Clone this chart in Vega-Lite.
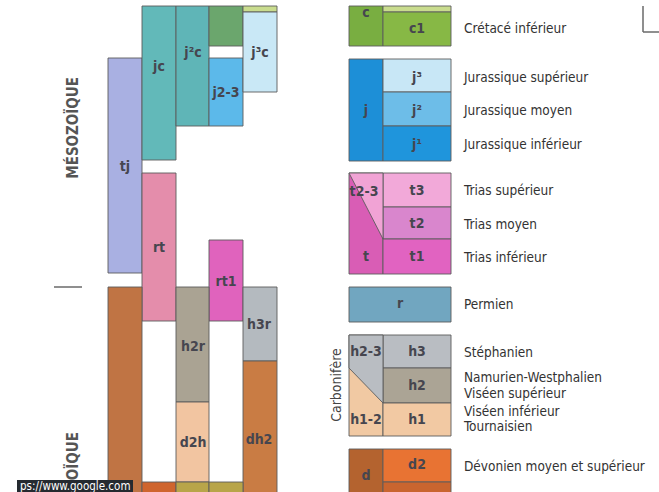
{
  "$schema": "https://vega.github.io/schema/vega-lite/v6.json",
  "width": 659,
  "height": 492,
  "autosize": "none",
  "padding": 0,
  "background": "white",
  "config": {"view": {"stroke": null}},
  "datasets": {
    "units": [
      {"unit": "tj", "x0": 108, "x1": 142, "top": 58, "bottom": 273},
      {"unit": "jc", "x0": 142, "x1": 176, "top": 6, "bottom": 160},
      {"unit": "j2c", "x0": 176, "x1": 209, "top": 6, "bottom": 126},
      {"unit": "cg", "x0": 209, "x1": 243, "top": 6, "bottom": 46},
      {"unit": "j2-3", "x0": 209, "x1": 243, "top": 58, "bottom": 126},
      {"unit": "c2", "x0": 243, "x1": 277, "top": 6, "bottom": 12},
      {"unit": "j3c", "x0": 243, "x1": 277, "top": 12, "bottom": 92},
      {"unit": "rt", "x0": 142, "x1": 176, "top": 173, "bottom": 321},
      {"unit": "rt1", "x0": 209, "x1": 243, "top": 240, "bottom": 321},
      {"unit": "dh", "x0": 108, "x1": 142, "top": 287, "bottom": 510},
      {"unit": "h2r", "x0": 176, "x1": 209, "top": 287, "bottom": 402},
      {"unit": "d2h", "x0": 176, "x1": 209, "top": 402, "bottom": 482},
      {"unit": "h3r", "x0": 243, "x1": 277, "top": 287, "bottom": 361},
      {"unit": "dh2", "x0": 243, "x1": 277, "top": 361, "bottom": 510},
      {"unit": "d2b", "x0": 142, "x1": 176, "top": 482, "bottom": 510},
      {"unit": "ol", "x0": 176, "x1": 209, "top": 482, "bottom": 510},
      {"unit": "ol", "x0": 209, "x1": 243, "top": 482, "bottom": 510},
      {"unit": "c", "x0": 349, "x1": 383, "top": 6, "bottom": 46},
      {"unit": "c2", "x0": 383, "x1": 451, "top": 6, "bottom": 12},
      {"unit": "c1", "x0": 383, "x1": 451, "top": 12, "bottom": 46},
      {"unit": "j", "x0": 349, "x1": 383, "top": 59, "bottom": 161},
      {"unit": "j3", "x0": 383, "x1": 451, "top": 59, "bottom": 92},
      {"unit": "j2", "x0": 383, "x1": 451, "top": 92, "bottom": 126},
      {"unit": "j1", "x0": 383, "x1": 451, "top": 126, "bottom": 161},
      {"unit": "t", "x0": 349, "x1": 383, "top": 173, "bottom": 274},
      {"unit": "t3", "x0": 383, "x1": 451, "top": 173, "bottom": 207},
      {"unit": "t2", "x0": 383, "x1": 451, "top": 207, "bottom": 239},
      {"unit": "t1", "x0": 383, "x1": 451, "top": 239, "bottom": 274},
      {"unit": "r", "x0": 349, "x1": 451, "top": 287, "bottom": 322},
      {"unit": "h1-2", "x0": 349, "x1": 383, "top": 335, "bottom": 436},
      {"unit": "h3", "x0": 383, "x1": 451, "top": 335, "bottom": 368},
      {"unit": "h2", "x0": 383, "x1": 451, "top": 368, "bottom": 403},
      {"unit": "h1", "x0": 383, "x1": 451, "top": 403, "bottom": 436},
      {"unit": "d", "x0": 349, "x1": 383, "top": 449, "bottom": 510},
      {"unit": "d2", "x0": 383, "x1": 451, "top": 449, "bottom": 482},
      {"unit": "d1", "x0": 383, "x1": 451, "top": 482, "bottom": 510}
    ],
    "wedges": [
      {"unit": "t2-3", "x": 349, "top": 173, "bottom": 173},
      {"unit": "t2-3", "x": 383, "top": 173, "bottom": 239},
      {"unit": "h2-3", "x": 349, "top": 335, "bottom": 368},
      {"unit": "h2-3", "x": 383, "top": 335, "bottom": 403}
    ],
    "codes": [
      {"label": "jc", "x": 159, "y": 67},
      {"label": "j²c", "x": 193, "y": 53},
      {"label": "j2-3", "x": 226, "y": 93},
      {"label": "j³c", "x": 260, "y": 53},
      {"label": "tj", "x": 125, "y": 167},
      {"label": "rt", "x": 159, "y": 248},
      {"label": "rt1", "x": 226, "y": 282},
      {"label": "h3r", "x": 259, "y": 325},
      {"label": "h2r", "x": 193, "y": 347},
      {"label": "d2h", "x": 193, "y": 443},
      {"label": "dh2", "x": 259, "y": 440},
      {"label": "c", "x": 366, "y": 13},
      {"label": "c1", "x": 417, "y": 29},
      {"label": "j", "x": 366, "y": 111},
      {"label": "j³", "x": 417, "y": 78},
      {"label": "j²", "x": 417, "y": 111},
      {"label": "j¹", "x": 417, "y": 145},
      {"label": "t2-3", "x": 364, "y": 192},
      {"label": "t", "x": 366, "y": 257},
      {"label": "t3", "x": 417, "y": 191},
      {"label": "t2", "x": 417, "y": 224},
      {"label": "t1", "x": 417, "y": 257},
      {"label": "r", "x": 400, "y": 304},
      {"label": "h2-3", "x": 366, "y": 352},
      {"label": "h3", "x": 417, "y": 352},
      {"label": "h2", "x": 417, "y": 386},
      {"label": "h1", "x": 417, "y": 420},
      {"label": "h1-2", "x": 366, "y": 420},
      {"label": "d", "x": 366, "y": 476},
      {"label": "d2", "x": 417, "y": 465}
    ],
    "names": [
      {"label": "Crétacé inférieur", "x": 464, "y": 29},
      {"label": "Jurassique supérieur", "x": 464, "y": 78},
      {"label": "Jurassique moyen", "x": 464, "y": 111},
      {"label": "Jurassique inférieur", "x": 464, "y": 145},
      {"label": "Trias supérieur", "x": 464, "y": 191},
      {"label": "Trias moyen", "x": 464, "y": 225},
      {"label": "Trias inférieur", "x": 464, "y": 258},
      {"label": "Permien", "x": 464, "y": 305},
      {"label": "Stéphanien", "x": 464, "y": 353},
      {"label": "Namurien-Westphalien", "x": 464, "y": 378},
      {"label": "Viséen supérieur", "x": 464, "y": 394},
      {"label": "Viséen inférieur", "x": 464, "y": 412},
      {"label": "Tournaisien", "x": 464, "y": 427},
      {"label": "Dévonien moyen et supérieur", "x": 464, "y": 467}
    ],
    "eras": [
      {"label": "MÉSOZOÏQUE", "x": 73, "y": 77},
      {"label": "PALÉOZOÏQUE", "x": 73, "y": 432}
    ],
    "lines": [
      {"x": 54, "x2": 82, "y": 287, "y2": 287},
      {"x": 643, "x2": 643, "y": 6, "y2": 32},
      {"x": 643, "x2": 660, "y": 32, "y2": 32}
    ],
    "overlay": [
      {"x0": 17, "x1": 133, "top": 480, "bottom": 495, "label": "ps://www.google.com", "tx": 20, "ty": 487}
    ]
  },
  "layer": [
    {
      "data": {"name": "units"},
      "mark": {"type": "rect", "stroke": "#5c5c5c", "strokeWidth": 0.9},
      "encoding": {
        "x": {"field": "x0", "type": "quantitative", "scale": {"domain": [0, 659], "nice": false, "zero": false}, "axis": null},
        "x2": {"field": "x1"},
        "y": {"field": "top", "type": "quantitative", "scale": {"domain": [0, 492], "nice": false, "zero": false, "reverse": true}, "axis": null},
        "y2": {"field": "bottom"},
        "color": {
          "field": "unit", "type": "nominal", "legend": null,
          "scale": {
            "domain": ["tj","jc","j2c","cg","j2-3","c2","j3c","rt","rt1","dh","h2r","d2h","h3r","dh2","d2b","ol","c","c1","j","j3","j2","j1","t","t3","t2","t1","r","h1-2","h3","h2","h1","d","d2","d1","t2-3","h2-3"],
            "range": ["#a9b0e2","#62b9b9","#5fb5b7","#6ba66d","#5cb9ea","#c9dc8e","#c9e8f6","#e48dab","#e063bd","#c07444","#aaa393","#f2c5a1","#b4babf","#c97c44","#cf652e","#b8a549","#79ae41","#87b845","#1d8fd7","#c8e7f6","#6dbde8","#1f95dc","#d95db5","#f2a9d9","#d986cd","#e163c1","#71a6c0","#f1c9a3","#b9bdc2","#aba495","#f2c9a3","#b4632f","#e87333","#c9652f","#f1a3d5","#b9bdc2"]
          }
        }
      }
    },
    {
      "data": {"name": "wedges"},
      "mark": {"type": "area", "orient": "vertical", "stroke": "#5c5c5c", "strokeWidth": 0.9},
      "encoding": {
        "x": {"field": "x", "type": "quantitative"},
        "y": {"field": "top", "type": "quantitative"},
        "y2": {"field": "bottom"},
        "color": {"field": "unit", "type": "nominal", "legend": null},
        "detail": {"field": "unit"}
      }
    },
    {
      "data": {"name": "codes"},
      "mark": {"type": "text", "font": "DejaVu Sans Condensed, sans-serif", "fontSize": 14, "fontWeight": "bold", "fill": "#46464f", "align": "center", "baseline": "middle"},
      "encoding": {
        "x": {"field": "x", "type": "quantitative"},
        "y": {"field": "y", "type": "quantitative"},
        "text": {"field": "label"}
      }
    },
    {
      "data": {"name": "names"},
      "mark": {"type": "text", "font": "DejaVu Sans Condensed, sans-serif", "fontSize": 13.5, "fill": "#333333", "align": "left", "baseline": "middle"},
      "encoding": {
        "x": {"field": "x", "type": "quantitative"},
        "y": {"field": "y", "type": "quantitative"},
        "text": {"field": "label"}
      }
    },
    {
      "data": {"name": "eras"},
      "mark": {"type": "text", "font": "DejaVu Sans Condensed, sans-serif", "fontSize": 15, "fontWeight": "bold", "fill": "#555555", "angle": 270, "align": "right", "baseline": "middle"},
      "encoding": {
        "x": {"field": "x", "type": "quantitative"},
        "y": {"field": "y", "type": "quantitative"},
        "text": {"field": "label"}
      }
    },
    {
      "data": {"values": [{"label": "Carbonifère", "x": 337, "y": 385}]},
      "mark": {"type": "text", "font": "DejaVu Sans Condensed, sans-serif", "fontSize": 14, "fill": "#444444", "angle": 270, "align": "center", "baseline": "middle"},
      "encoding": {
        "x": {"field": "x", "type": "quantitative"},
        "y": {"field": "y", "type": "quantitative"},
        "text": {"field": "label"}
      }
    },
    {
      "data": {"name": "lines"},
      "mark": {"type": "rule", "stroke": "#6a6a6a", "strokeWidth": 1.5},
      "encoding": {
        "x": {"field": "x", "type": "quantitative"},
        "x2": {"field": "x2"},
        "y": {"field": "y", "type": "quantitative"},
        "y2": {"field": "y2"}
      }
    },
    {
      "data": {"name": "overlay"},
      "mark": {"type": "rect", "fill": "#252a30"},
      "encoding": {
        "x": {"field": "x0", "type": "quantitative"},
        "x2": {"field": "x1"},
        "y": {"field": "top", "type": "quantitative"},
        "y2": {"field": "bottom"}
      }
    },
    {
      "data": {"name": "overlay"},
      "mark": {"type": "text", "font": "DejaVu Sans Condensed, sans-serif", "fontSize": 11.5, "fill": "#ffffff", "align": "left", "baseline": "middle"},
      "encoding": {
        "x": {"field": "tx", "type": "quantitative"},
        "y": {"field": "ty", "type": "quantitative"},
        "text": {"field": "label"}
      }
    }
  ]
}
